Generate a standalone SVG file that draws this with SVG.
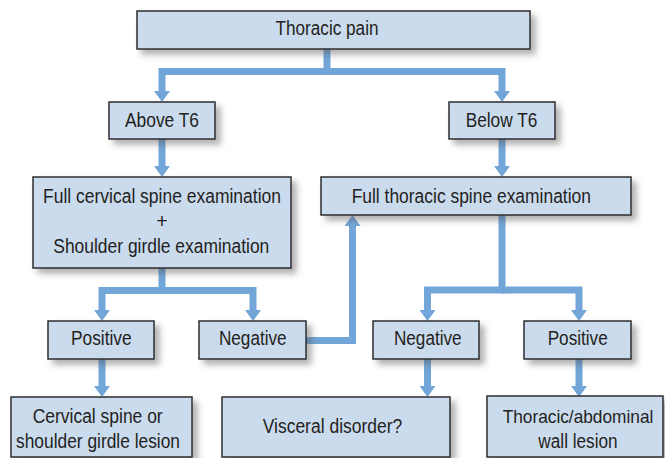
<svg xmlns="http://www.w3.org/2000/svg" width="665" height="458" viewBox="0 0 665 458">
  <style>
    .box { fill: #cbdbee; stroke: #2e2e2e; stroke-width: 1.5; filter: url(#shadow); }
    .lbl { font-family: "Liberation Sans", Arial, sans-serif; font-size: 19.5px; fill: #231f20; text-anchor: middle; }
    .conn { fill: none; stroke: #72a6d8; stroke-width: 7; stroke-linejoin: miter; stroke-linecap: butt; marker-end: url(#arrow); }
  </style>
  <defs>
    <filter id="shadow" x="-10%" y="-20%" width="130%" height="160%">
      <feDropShadow dx="5" dy="5" stdDeviation="3" flood-color="#555" flood-opacity="0.45"/>
    </filter>
    <marker id="arrow" markerUnits="userSpaceOnUse" viewBox="0 -8 11 16" refX="0" refY="0" markerWidth="11" markerHeight="16" orient="auto">
      <path d="M0,-8 L11,0 L0,8 Z" fill="#72a6d8"/>
    </marker>
  </defs>

  <g id="connectors">
    <path class="conn" d="M327,49 V71.5 H162 V91"/>
    <path class="conn" d="M327,71.5 H502 V91"/>
    <path class="conn" d="M162,139 V166"/>
    <path class="conn" d="M502,139 V166"/>
    <path class="conn" d="M162,268 V290.5 H102 V310"/>
    <path class="conn" d="M162,290.5 H253 V310"/>
    <path class="conn" d="M502,215 V290 H427.5 V310"/>
    <path class="conn" d="M502,290 H579 V310"/>
    <path class="conn" d="M306,340.5 H352.5 V226"/>
    <path class="conn" d="M102,359 V386"/>
    <path class="conn" d="M427.5,359 V386"/>
    <path class="conn" d="M579,359 V386"/>
  </g>

  <g id="thoracic-pain">
    <rect class="box" x="137" y="11" width="393" height="38"/>
    <text class="lbl" x="327" y="35" textLength="103" lengthAdjust="spacingAndGlyphs">Thoracic pain</text>
  </g>
  <g id="above-t6">
    <rect class="box" x="109" y="102" width="106" height="37"/>
    <text class="lbl" x="162" y="126.7" textLength="74" lengthAdjust="spacingAndGlyphs">Above T6</text>
  </g>
  <g id="below-t6">
    <rect class="box" x="449" y="102" width="106" height="37"/>
    <text class="lbl" x="501.5" y="126.7" textLength="71.6" lengthAdjust="spacingAndGlyphs">Below T6</text>
  </g>
  <g id="cervical-exam">
    <rect class="box" x="33" y="177" width="258" height="91"/>
    <text class="lbl" x="162" y="203" textLength="238" lengthAdjust="spacingAndGlyphs">Full cervical spine examination</text>
    <text class="lbl" x="162" y="228">+</text>
    <text class="lbl" x="161.3" y="253.3" textLength="216" lengthAdjust="spacingAndGlyphs">Shoulder girdle examination</text>
  </g>
  <g id="thoracic-exam">
    <rect class="box" x="321" y="177" width="310" height="38"/>
    <text class="lbl" x="471.3" y="202.7" textLength="239.3" lengthAdjust="spacingAndGlyphs">Full thoracic spine examination</text>
  </g>
  <g id="positive-left">
    <rect class="box" x="48" y="321" width="106" height="38"/>
    <text class="lbl" x="101.3" y="345" textLength="60.7" lengthAdjust="spacingAndGlyphs">Positive</text>
  </g>
  <g id="negative-left">
    <rect class="box" x="199" y="321" width="107" height="38"/>
    <text class="lbl" x="252.8" y="345" textLength="67.7" lengthAdjust="spacingAndGlyphs">Negative</text>
  </g>
  <g id="negative-right">
    <rect class="box" x="373" y="321" width="106" height="38"/>
    <text class="lbl" x="427.8" y="345" textLength="67.7" lengthAdjust="spacingAndGlyphs">Negative</text>
  </g>
  <g id="positive-right">
    <rect class="box" x="524" y="321" width="107" height="38"/>
    <text class="lbl" x="577.7" y="345" textLength="60" lengthAdjust="spacingAndGlyphs">Positive</text>
  </g>
  <g id="cervical-lesion">
    <rect class="box" x="11" y="397" width="181" height="60"/>
    <text class="lbl" x="97.7" y="422.7" textLength="130" lengthAdjust="spacingAndGlyphs">Cervical spine or</text>
    <text class="lbl" x="98" y="447.7" textLength="164" lengthAdjust="spacingAndGlyphs">shoulder girdle lesion</text>
  </g>
  <g id="visceral">
    <rect class="box" x="222" y="397" width="228" height="60"/>
    <text class="lbl" x="332.5" y="433.3" textLength="139.6" lengthAdjust="spacingAndGlyphs">Visceral disorder?</text>
  </g>
  <g id="wall-lesion">
    <rect class="box" x="487" y="396" width="176" height="61"/>
    <text class="lbl" x="578" y="422.7" textLength="150.7" lengthAdjust="spacingAndGlyphs" style="font-size:18.5px">Thoracic/abdominal</text>
    <text class="lbl" x="578" y="447.7" textLength="79.3" lengthAdjust="spacingAndGlyphs">wall lesion</text>
  </g>
</svg>
